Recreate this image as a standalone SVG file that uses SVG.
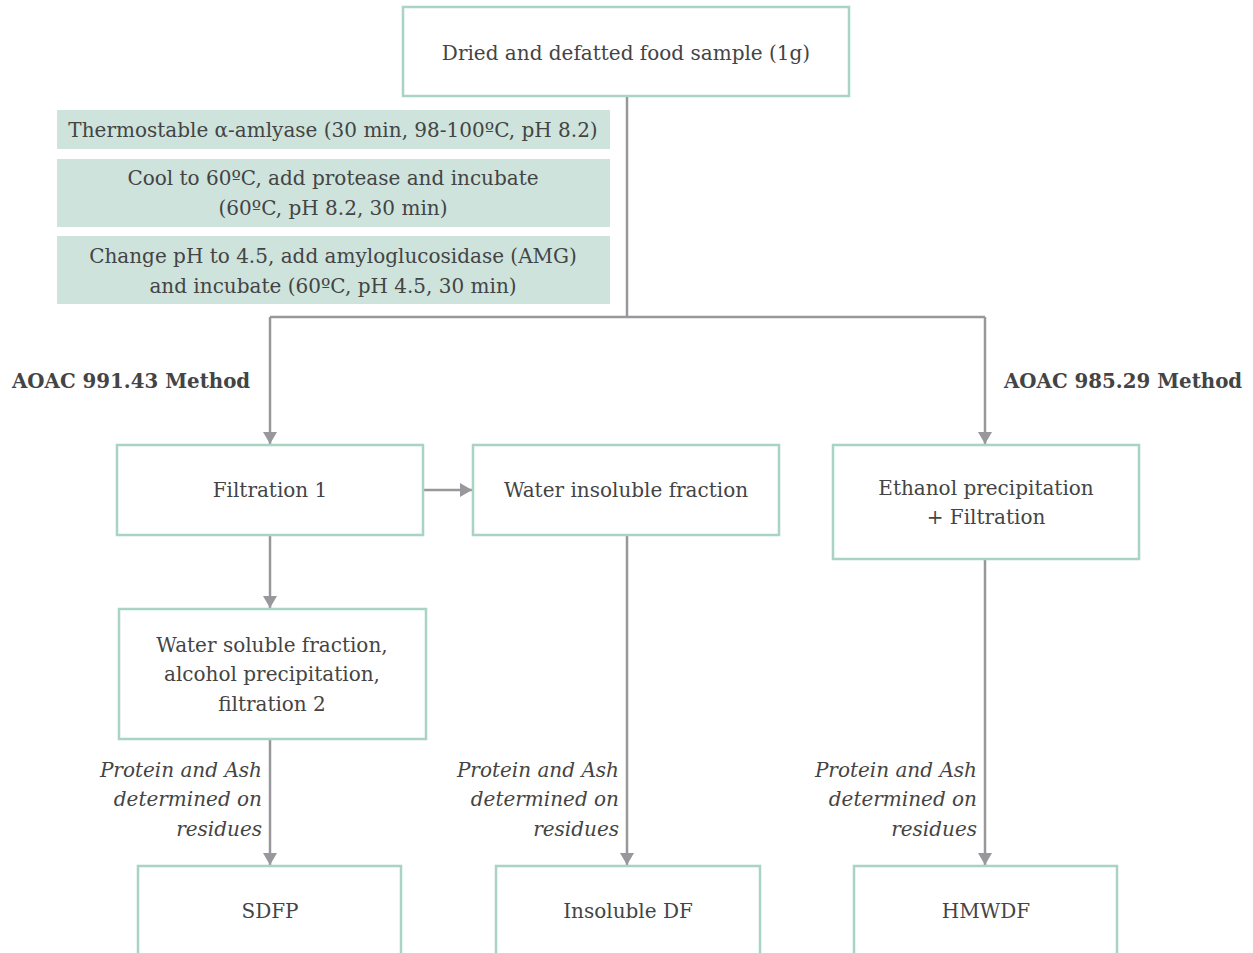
<svg xmlns="http://www.w3.org/2000/svg" width="1253" height="953" viewBox="0 0 1253 953">
<defs>
<style>
.box{fill:#fff;stroke:#a9d4c4;stroke-width:2.5}
.fill{fill:#cde3dc}
text{font-family:"DejaVu Serif","Liberation Serif",serif;font-size:20px;fill:#444}
.c{text-anchor:middle}
.b{font-weight:bold;font-size:19.8px}
.i{font-style:italic;text-anchor:end}
.ln{fill:none;stroke:#98989c;stroke-width:2.5}
</style>
<marker id="ah" markerWidth="12" markerHeight="14" refX="12" refY="7" orient="auto" markerUnits="userSpaceOnUse" viewBox="0 0 12 14">
<path d="M0,0 L12,7 L0,14 Z" fill="#98989c"/>
</marker>
</defs>
<rect width="1253" height="953" fill="#fff"/>
<g id="connectors">
<path class="ln" d="M627,96 V317"/>
<path class="ln" d="M270,317 H985"/>
<path class="ln" d="M270,317 V444" marker-end="url(#ah)"/>
<path class="ln" d="M985,317 V444" marker-end="url(#ah)"/>
<path class="ln" d="M423,490 H472" marker-end="url(#ah)"/>
<path class="ln" d="M270,535 V608" marker-end="url(#ah)"/>
<path class="ln" d="M270,739 V865" marker-end="url(#ah)"/>
<path class="ln" d="M627,535 V865" marker-end="url(#ah)"/>
<path class="ln" d="M985,559 V865" marker-end="url(#ah)"/>
</g>
<g id="n-sample"><rect class="box" x="403" y="7" width="446" height="89"/><text class="c" x="626" y="60">Dried and defatted food sample (1g)</text></g>
<g id="n-step1"><rect class="fill" x="57" y="110" width="553" height="39"/><text class="c" x="333" y="137">Thermostable α-amlyase (30 min, 98-100ºC, pH 8.2)</text></g>
<g id="n-step2"><rect class="fill" x="57" y="159" width="553" height="68"/><text class="c" x="333" y="185">Cool to 60ºC, add protease and incubate</text><text class="c" x="333" y="215">(60ºC, pH 8.2, 30 min)</text></g>
<g id="n-step3"><rect class="fill" x="57" y="236" width="553" height="68"/><text class="c" x="333" y="263">Change pH to 4.5, add amyloglucosidase (AMG)</text><text class="c" x="333" y="293">and incubate (60ºC, pH 4.5, 30 min)</text></g>
<g id="lbl-991"><text class="b" x="12" y="388">AOAC 991.43 Method</text></g>
<g id="lbl-985"><text class="b" x="1004" y="388">AOAC 985.29 Method</text></g>
<g id="n-filt1"><rect class="box" x="117" y="445" width="306" height="90"/><text class="c" x="270" y="497">Filtration 1</text></g>
<g id="n-insol"><rect class="box" x="473" y="445" width="306" height="90"/><text class="c" x="626" y="497">Water insoluble fraction</text></g>
<g id="n-ethanol"><rect class="box" x="833" y="445" width="306" height="114"/><text class="c" x="986" y="495">Ethanol precipitation</text><text class="c" x="986" y="524">+ Filtration</text></g>
<g id="n-sol"><rect class="box" x="119" y="609" width="307" height="130"/><text class="c" x="272" y="652">Water soluble fraction,</text><text class="c" x="272" y="681">alcohol precipitation,</text><text class="c" x="272" y="711">filtration 2</text></g>
<g id="lbl-pa1"><text class="i" x="262" y="777">Protein and Ash</text><text class="i" x="262" y="806">determined on</text><text class="i" x="262" y="836">residues</text></g>
<g id="lbl-pa2"><text class="i" x="619" y="777">Protein and Ash</text><text class="i" x="619" y="806">determined on</text><text class="i" x="619" y="836">residues</text></g>
<g id="lbl-pa3"><text class="i" x="977" y="777">Protein and Ash</text><text class="i" x="977" y="806">determined on</text><text class="i" x="977" y="836">residues</text></g>
<g id="n-sdfp"><rect class="box" x="138" y="866" width="263" height="100"/><text class="c" x="270" y="918">SDFP</text></g>
<g id="n-idf"><rect class="box" x="496" y="866" width="264" height="100"/><text class="c" x="628" y="918">Insoluble DF</text></g>
<g id="n-hmwdf"><rect class="box" x="854" y="866" width="263" height="100"/><text class="c" x="986" y="918">HMWDF</text></g>
</svg>
